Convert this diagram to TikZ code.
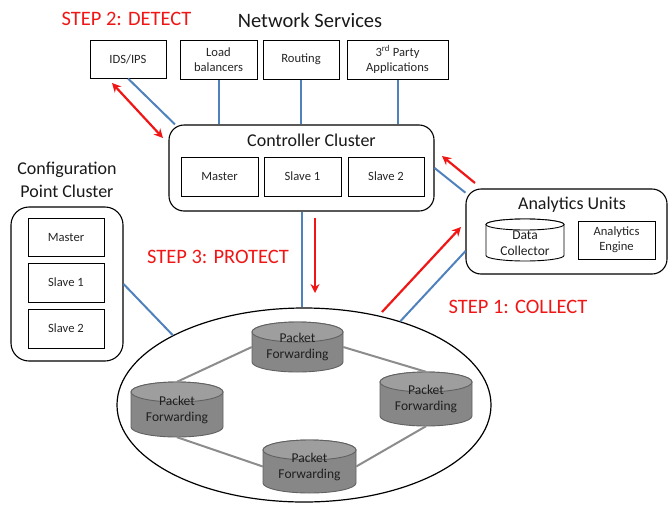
\documentclass[tikz,border=0pt]{standalone}
\usepackage{fontspec}
\setmainfont{Carlito}
\usetikzlibrary{arrows.meta,shapes.geometric}
\definecolor{stepred}{RGB}{240,22,22}
\definecolor{linkblue}{RGB}{79,129,189}
\definecolor{ringgray}{RGB}{140,140,140}
\colorlet{graybody}{black!47}
\colorlet{graytop}{black!38}
\colorlet{grayedge}{black!62}
\colorlet{whitebody}{white}
\colorlet{whitetop}{white}
\colorlet{whiteedge}{black}
\tikzset{
 box/.style={draw=black, line width=1pt, fill=white, inner sep=0pt, align=center,
   font=\fontsize{12.6}{15}\selectfont, text=black!85},
 cluster/.style={draw=black, line width=1.1pt, rounded corners=15pt, inner sep=0pt, fill=white},
 title/.style={anchor=base, inner sep=0pt, font=\fontsize{18}{22}\selectfont, text=black!90},
 bigtitle/.style={anchor=base, inner sep=0pt, font=\fontsize{20.5}{24}\selectfont, text=black!90},
 steplabel/.style={anchor=base, inner sep=0pt, text=stepred, font=\fontsize{20.5}{24}\selectfont},
 blueline/.style={draw=linkblue, line width=2pt},
 grayline/.style={draw=ringgray, line width=2pt},
 redarrow/.style={draw=stepred, line width=2.2pt, -{Stealth[length=9pt,width=9pt]}},
 drumtext/.style={inner sep=0pt, align=center, font=\fontsize{13.5}{16}\selectfont, text=black!88},
}
\newcommand\drum[9]{%
 \pgfmathsetmacro\dL{#2-#4/2}%
 \pgfmathsetmacro\dR{#2+#4/2}%
 \pgfmathsetmacro\dT{#3-#5/2+#6}%
 \pgfmathsetmacro\dB{#3+#5/2-#6}%
 \pgfmathsetmacro\dRx{#4/2}%
 \filldraw[draw=#7edge, line width=0.9pt, fill=#7body] (\dL,\dT) -- (\dL,\dB)
   arc[start angle=180,end angle=360,x radius=\dRx pt,y radius=#6pt] -- (\dR,\dT)
   arc[start angle=0,end angle=180,x radius=\dRx pt,y radius=#6pt] -- cycle;
 \filldraw[draw=#7edge, line width=0.9pt, fill=#7top] (#2,\dT) ellipse[x radius=\dRx pt,y radius=#6pt];
 \node[minimum width=#4pt, minimum height=#5pt, inner sep=0pt] (#1) at (#2,#3) {};
 \node[drumtext, yshift=#8pt] (#1t) at (#2,#3) {#9};
}
\begin{document}
\begin{tikzpicture}[x=1pt,y=-1pt]
\useasboundingbox (0,0) rectangle (668,506);

% titles
\node[steplabel] (s2) at (126.5,25) {STEP 2: DETECT};
\node[bigtitle] (ns) at (310,27) {Network Services};

% network services
\node[box, minimum width=76pt, minimum height=38pt] (ids) at (128,59) {IDS/IPS};
\node[box, minimum width=77pt, minimum height=39pt] (lb) at (218.5,59.5) {Load\\balancers};
\node[box, minimum width=76pt, minimum height=39pt] (rt) at (301,59.5) {Routing};
\node[box, minimum width=101pt, minimum height=39pt] (tp) at (397.5,59.5) {3\textsuperscript{rd} Party\\Applications};

% controller cluster
\node[cluster, minimum width=265pt, minimum height=86pt] (ctrl) at (301.5,168) {};
\node[title] (ctitle) at (311.5,146) {Controller Cluster};
\node[box, minimum width=77pt, minimum height=39pt] (cm) at (219.5,176.5) {Master};
\node[box, minimum width=77pt, minimum height=39pt] (cs1) at (302.5,176.5) {Slave 1};
\node[box, minimum width=76pt, minimum height=39pt] (cs2) at (386,176.5) {Slave 2};

% configuration point cluster
\node[title] (cfgt1) at (67,174) {Configuration};
\node[title] (cfgt2) at (67,197) {Point Cluster};
\node[cluster, rounded corners=18pt, minimum width=112pt, minimum height=154pt] (cfg) at (67,284) {};
\node[box, minimum width=76pt, minimum height=38pt] (fm) at (66,237) {Master};
\node[box, minimum width=76pt, minimum height=39pt] (fs1) at (66,282.5) {Slave 1};
\node[box, minimum width=76pt, minimum height=39pt] (fs2) at (66,328.5) {Slave 2};

% analytics units
\node[cluster, minimum width=201pt, minimum height=85pt] (an) at (566.5,231.5) {};
\node[title] (antitle) at (572,209) {Analytics Units};
\drum{dc}{525}{240}{78}{42}{5.5}{white}{-3}{Data\\Collector}
\node[box, minimum width=77pt, minimum height=38pt] (ae) at (616.5,240) {Analytics\\Engine};

% forwarding plane
\node[ellipse, draw=black, line width=1.2pt, minimum width=374pt, minimum height=194pt, inner sep=0pt] (ring) at (304,405) {};
\drum{pft}{297.5}{347}{91}{50}{10}{gray}{0}{Packet\\Forwarding}
\drum{pfl}{177}{409.5}{92}{55}{10}{gray}{0}{Packet\\Forwarding}
\drum{pfr}{426}{399}{92}{54}{10}{gray}{0}{Packet\\Forwarding}
\drum{pfb}{309.5}{466.5}{93}{53}{10}{gray}{0}{Packet\\Forwarding}
\draw[grayline] (pft.west) -- (pfl.north);
\draw[grayline] (pft.east) -- (pfr.north);
\draw[grayline] (pfr.south) -- (pfb.east);
\draw[grayline] (pfb.west) -- (pfl.south);

% blue links
\draw[blueline] (ids.south) -- (ctrl.161);
\draw[blueline] (lb.south) -- (lb.south |- ctrl.north);
\draw[blueline] (rt.south) -- (rt.south |- ctrl.north);
\draw[blueline] (tp.south) -- (tp.south |- ctrl.north);
\draw[blueline] (ctrl.east) -- (an.159);
\draw[blueline] (cfg.east) -- (ring.152);
\draw[blueline] (ctrl.south) -- (ctrl.south |- ring.north);
\draw[blueline] (ring.41) -- (an.191);

% step labels
\node[steplabel] (s3) at (218,263) {STEP 3: PROTECT};
\node[steplabel] (s1) at (518,313) {STEP 1: COLLECT};

% red arrows
\coordinate (r2a) at (112,83);
\coordinate (r2b) at (163,138);
\draw[redarrow, {Stealth[length=9pt,width=9pt]}-{Stealth[length=9pt,width=9pt]}] (r2a) -- (r2b);
\coordinate (r3a) at (315,218);
\coordinate (r3b) at (315,293);
\draw[redarrow] (r3a) -- (r3b);
\coordinate (r1a) at (382,312);
\coordinate (r1b) at (461,227);
\draw[redarrow] (r1a) -- (r1b);
\coordinate (r4a) at (475,183);
\coordinate (r4b) at (442,156);
\draw[redarrow] (r4a) -- (r4b);
\end{tikzpicture}
\end{document}
